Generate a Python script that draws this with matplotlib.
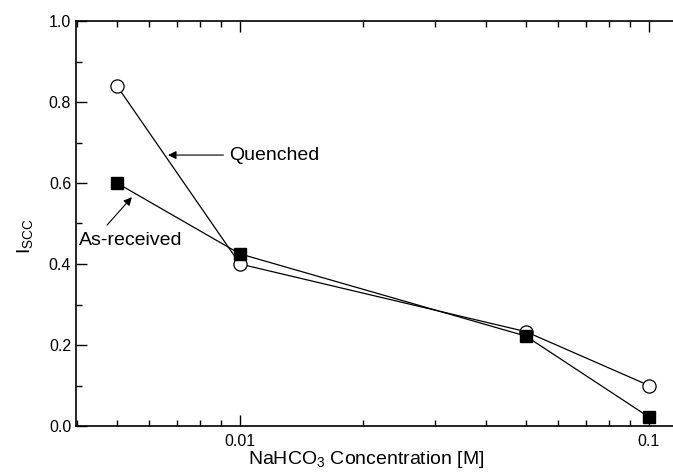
import matplotlib
matplotlib.use("Agg")
import matplotlib.pyplot as plt
from matplotlib.ticker import LogLocator, FixedLocator, FixedFormatter, MultipleLocator

plt.rcParams['font.family'] = ['Liberation Sans', 'DejaVu Sans']
plt.rcParams['mathtext.default'] = 'regular'

conc = [0.005, 0.01, 0.05, 0.1]
quenched = [0.84, 0.40, 0.233, 0.10]
as_received = [0.60, 0.425, 0.222, 0.022]
xtick_vals = [0.01, 0.1]
xtick_labels = ['0.01', '0.1']

fig = plt.figure(figsize=(6.73, 4.76), dpi=100)
ax = fig.add_axes([76/673, 50/476, 599/673, 405/476])

ax.plot(conc, quenched, color='k', lw=0.9, zorder=2)
ax.plot(conc, as_received, color='k', lw=0.9, zorder=2)
ax.plot(conc, quenched, ls='none', marker='o', ms=9.5, mfc='white', mec='k', mew=0.9, zorder=3)
ax.plot(conc, as_received, ls='none', marker='s', ms=8, mfc='k', mec='k', zorder=4)

ax.set_xscale('log')
ax.set_xlim(0.003972, 0.1158)
ax.set_ylim(0, 1.0)

ax.xaxis.set_major_locator(FixedLocator(xtick_vals))
ax.xaxis.set_major_formatter(FixedFormatter(xtick_labels))
ax.xaxis.set_minor_locator(LogLocator(base=10, subs=range(2, 10), numticks=20))
ax.xaxis.set_minor_formatter(plt.NullFormatter())
ax.yaxis.set_major_locator(MultipleLocator(0.2))
ax.yaxis.set_minor_locator(MultipleLocator(0.1))
ax.yaxis.set_major_formatter(plt.FuncFormatter(lambda v, p: f'{v:.1f}'))

ax.tick_params(which='both', direction='in', top=True, right=False, labelsize=11.5, width=1.0)
ax.tick_params(which='major', length=8)
ax.tick_params(which='minor', length=4)
ax.tick_params(axis='x', pad=6)
for s in ['left', 'bottom', 'top']:
    ax.spines[s].set_linewidth(1.2)
ax.spines['right'].set_visible(False)

ax.set_xlabel('NaHCO$_3$ Concentration [M]', fontsize=14)
ax.xaxis.set_label_coords(0.484, -0.058)
ax.xaxis.label.set_va('top')
ax.set_ylabel('I$_{SCC}$', fontsize=14)
ax.yaxis.set_label_coords(-0.068, 0.47)

ax.annotate('Quenched', xy=(0.00667, 0.669), xytext=(0.0094, 0.669),
            va='center', ha='left', fontsize=14,
            arrowprops=dict(arrowstyle='-|>', lw=0.8, color='k', shrinkA=2, shrinkB=0,
                            mutation_scale=12))
ax.text(0.00404, 0.459, 'As-received', va='center', ha='left', fontsize=14)
ax.annotate('', xy=(0.00544, 0.565), xytext=(0.00473, 0.496),
            arrowprops=dict(arrowstyle='-|>', lw=0.8, color='k', shrinkA=0, shrinkB=0,
                            mutation_scale=12))

fig.savefig('out.png', dpi=100)
